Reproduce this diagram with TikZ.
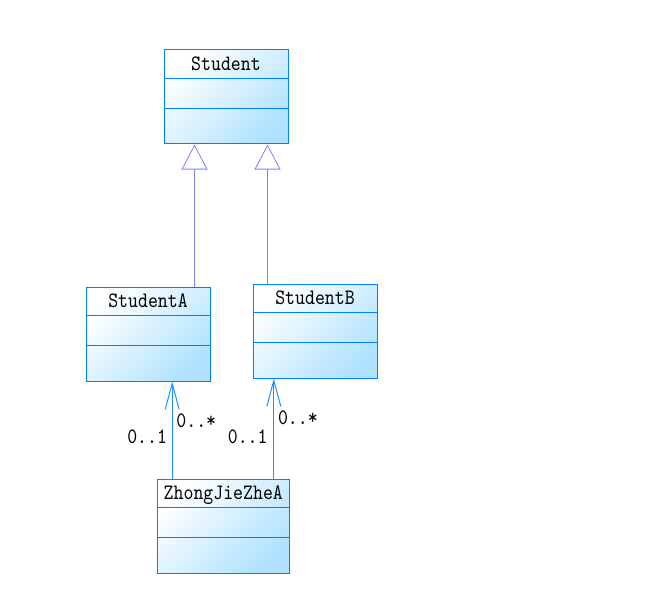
\documentclass[tikz,border=0pt]{standalone}
\usepackage{fontspec}
\usepackage{tikz}
\usetikzlibrary{arrows.meta,calc}
\newfontfamily\umlfont[Extension=.otf,FakeStretch=0.86]{lmmono10-regular}
\definecolor{boxblue}{RGB}{0,128,255}
\definecolor{fillblue}{RGB}{176,226,255}
\definecolor{genblue}{RGB}{128,128,255}
\definecolor{assocblue}{RGB}{30,144,255}

\tikzset{
  classbox/.style={draw=boxblue, line width=1bp, minimum height=94bp, inner sep=0pt,
    top color=white, bottom color=fillblue, shading angle=45},
  classname/.style={anchor=base, inner sep=0pt, font=\umlfont\fontsize{22bp}{22bp}\selectfont},
  classline/.style={draw=boxblue, line width=1bp},
  gen/.style={draw=genblue, line width=0.8bp, -{Triangle[open, length=25bp, width=26bp]}},
  assoc/.style={draw=assocblue, line width=1bp, -{Straight Barb[length=26bp, width=14bp]}},
  mult/.style={inner sep=0pt, font=\umlfont\fontsize{22bp}{22bp}\selectfont}
}

% one class box with its name and two empty compartments
\newcommand{\umlclass}[4]{%
  \node[classbox, minimum width=#3] (#1) at (#2) {};
  \node[classname] (#1-name) at ($(#1.north)+(0,21)$) {#4};
  \draw[classline] ($(#1.north west)+(0,29)$) -- ($(#1.north east)+(0,29)$);
  \draw[classline] ($(#1.north west)+(0,59)$) -- ($(#1.north east)+(0,59)$);
}

\begin{document}
\begin{tikzpicture}[x=1bp, y=-1bp]
            \useasboundingbox (0,0) rectangle (660,592);

            \umlclass{stu}{226,97}{124bp}{Student}
            \umlclass{stuA}{148,334}{124bp}{StudentA}
            \umlclass{stuB}{315,331}{124bp}{StudentB}
            \umlclass{zja}{223.3,526.3}{132bp}{ZhongJieZheA}

            % inheritance
            \coordinate (g1) at ($(stu.south west)+(31,0)$);
            \coordinate (g2) at ($(stu.south west)+(104,0)$);
            \draw[gen] (g1 |- stuA.north) -- (g1);
            \draw[gen] (g2 |- stuB.north) -- (g2);

            % associations
            \coordinate (a1) at ($(zja.north west)+(15.4,0)$);
            \coordinate (a2) at ($(zja.north west)+(117,0)$);
            \draw[assoc] (a1) -- (a1 |- stuA.south);
            \draw[assoc] (a2) -- (a2 |- stuB.south);

            \node[mult, anchor=base east] (m1) at ($(a1)+(-5,-35)$) {0..1};
            \node[mult, anchor=base west] (m2) at ($(a1)+(4,-51)$) {0..*};
            \node[mult, anchor=base east] (m3) at ($(a2)+(-6,-35)$) {0..1};
            \node[mult, anchor=base west] (m4) at ($(a2)+(4,-54)$) {0..*};
        \end{tikzpicture}
\end{document}
